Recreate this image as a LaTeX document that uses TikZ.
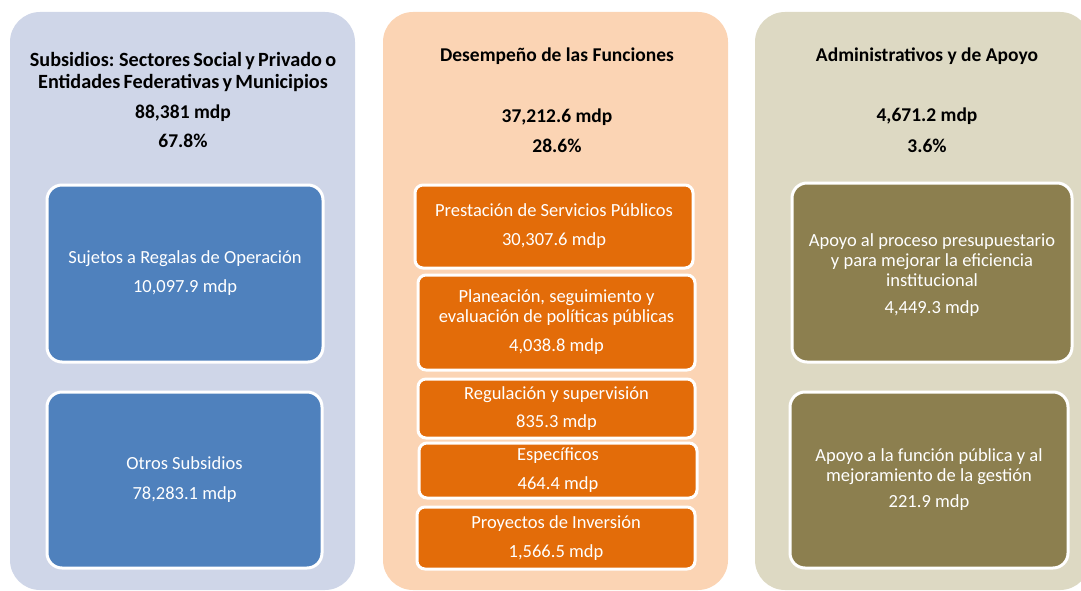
\documentclass[tikz,border=0pt]{standalone}
\usepackage{fontspec}
\setmainfont{Carlito}
\definecolor{panelA}{HTML}{CFD6E8}
\definecolor{panelB}{HTML}{FBD4B4}
\definecolor{panelC}{HTML}{DDD9C3}
\definecolor{boxA}{HTML}{4F81BD}
\definecolor{boxB}{HTML}{E36C09}
\definecolor{boxC}{HTML}{8C7F4F}
\newcommand\mytightsp{\spaceskip=0.16em plus 0.05em minus 0.05em\relax}
\begin{document}
\begin{tikzpicture}[x=1pt,y=-1pt,
  panel/.style={rectangle,rounded corners=30pt,inner sep=0pt,draw=none},
  bigbox/.style={rectangle,rounded corners=15pt,inner sep=0pt,draw=white,line width=3pt,
     text=white,align=center,font=\fontsize{18.5}{20}\selectfont},
  smallbox/.style={rectangle,rounded corners=8pt,inner sep=0pt,draw=white,line width=3pt,
     text=white,align=center,font=\fontsize{18.5}{20}\selectfont},
  title/.style={align=center,inner sep=0pt,font=\bfseries\fontsize{19.5}{22}\selectfont},
  value/.style={align=center,inner sep=0pt,font=\bfseries\fontsize{19.5}{20}\selectfont}]
\useasboundingbox (0,0) rectangle (1081,591);
\clip (0,0) rectangle (1081,591);
% panels
\node[panel,fill=panelA,minimum width=345pt,minimum height=578pt] (p1) at (182.5,301) {};
\node[panel,fill=panelB,minimum width=345pt,minimum height=578pt] (p2) at (555.5,301) {};
\node[panel,fill=panelC,minimum width=335pt,minimum height=578pt] (p3) at (922.5,301) {};
% titles
\node[title,anchor=base,font=\bfseries\fontsize{20.2}{22}\selectfont] (t1) at (183,89) {\mytightsp Subsidios: Sectores Social y Privado o\\\mytightsp Entidades Federativas y Municipios};
\node[value,anchor=base] (v1) at (183,119) {88,381 mdp};
\node[value,anchor=base] (q1) at (183,147) {67.8\%};
\node[title,anchor=base] (t2) at (557,62) {Desempeño de las Funciones};
\node[value,anchor=base] (v2) at (557,123) {37,212.6 mdp};
\node[value,anchor=base] (q2) at (557,152) {28.6\%};
\node[title,anchor=base] (t3) at (927,62) {Administrativos y de Apoyo};
\node[value,anchor=base] (v3) at (927,122) {4,671.2 mdp};
\node[value,anchor=base] (q3) at (927,152) {3.6\%};
% left boxes
\node[bigbox,fill=boxA,minimum width=276pt,minimum height=177pt] (a1) at (185,273.5)
  {Sujetos a Regalas de Operación\\[9pt]10,097.9 mdp};
\node[bigbox,fill=boxA,minimum width=275pt,minimum height=176pt] (a2) at (184.5,480)
  {Otros Subsidios\\[10pt]78,283.1 mdp};
% center boxes
\node[smallbox,fill=boxB,minimum width=278pt,minimum height=83pt] (b1) at (554,226.5)
  {Prestación de Servicios Públicos\\[9pt]30,307.6 mdp};
\node[smallbox,fill=boxB,minimum width=277pt,minimum height=95pt] (b2) at (556.5,322.5)
  {Planeación, seguimiento y\\evaluación de políticas públicas\\[9pt]4,038.8 mdp};
\node[smallbox,fill=boxB,minimum width=277pt,minimum height=59pt] (b3) at (556.5,408.5)
  {Regulación y supervisión\\[8pt]835.3 mdp};
\node[smallbox,fill=boxB,minimum width=278pt,minimum height=55pt] (b4) at (558,470.5)
  {Específicos\\[9pt]464.4 mdp};
\node[smallbox,fill=boxB,minimum width=278pt,minimum height=62pt] (b5) at (556,538)
  {Proyectos de Inversión\\[9pt]1,566.5 mdp};
% right boxes
\node[bigbox,fill=boxC,minimum width=280pt,minimum height=179pt] (c1) at (932,272.5)
  {\rule{0pt}{18pt}Apoyo al proceso presupuestario\\y para mejorar la eficiencia\\institucional\\[7pt]4,449.3 mdp};
\node[bigbox,fill=boxC,minimum width=278pt,minimum height=176pt] (c2) at (929,480)
  {Apoyo a la función pública y al\\mejoramiento de la gestión\\[6pt]221.9 mdp};
\end{tikzpicture}
\end{document}
